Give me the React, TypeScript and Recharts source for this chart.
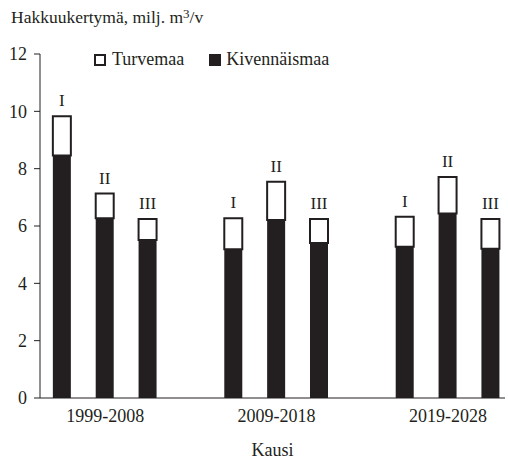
import { BarChart, Bar, XAxis, YAxis, LabelList } from 'recharts';

// Kaudet ja laskelmavaihtoehdot
const periods = ['1999-2008', '2009-2018', '2019-2028'];
const scenarios = ['I', 'II', 'III'];

// Hakkuukertymä, milj. m3/v (kausi x vaihtoehto)
const kivennaismaa = [8.46, 6.27, 5.51, 5.19, 6.21, 5.41, 5.28, 6.44, 5.21];
const turvemaa = [1.37, 0.86, 0.73, 1.08, 1.33, 0.83, 1.04, 1.27, 1.03];

const yTicks = [0, 2, 4, 6, 8, 10, 12];

const FONT = '"Liberation Serif", "Times New Roman", serif';
const DARK = '#231f20';

// kausien väliin jää yksi tyhjä paikka
const data = kivennaismaa.map((kiv, i) => ({
  pos: Math.floor(i / 3) * 4 + (i % 3),
  kiv,
  turve: turvemaa[i],
  label: scenarios[i % 3],
}));

const periodTicks = periods.map((_, g) => g * 4 + 1);

export default function App() {
  return (
    <div
      style={{
        position: 'absolute',
        left: 0,
        top: 0,
        width: 508,
        height: 460,
        background: '#fff',
        fontFamily: FONT,
        color: DARK,
      }}
    >
      <div style={{ position: 'absolute', left: 11, top: 6, fontSize: 17.5, whiteSpace: 'nowrap' }}>
        Hakkuukertymä, milj. m<sup style={{ fontSize: 13, verticalAlign: 5 }}>3</sup>/v
      </div>

      <div
        style={{
          position: 'absolute',
          left: 94,
          top: 49,
          fontSize: 18,
          display: 'flex',
          alignItems: 'center',
          whiteSpace: 'nowrap',
        }}
      >
        <span
          style={{
            display: 'inline-block',
            width: 12,
            height: 12,
            boxSizing: 'border-box',
            border: `2px solid ${DARK}`,
            background: '#fff',
            marginRight: 6,
          }}
        />
        <span style={{ marginRight: 25 }}>Turvemaa</span>
        <span
          style={{
            display: 'inline-block',
            width: 12,
            height: 12,
            background: DARK,
            marginRight: 5,
          }}
        />
        <span>Kivennäismaa</span>
      </div>

      <BarChart
        width={508}
        height={460}
        data={data}
        margin={{ top: 54, right: 3, left: 0, bottom: 0 }}
        barSize={18}
        style={{ fontFamily: FONT }}
      >
        <XAxis
          type="number"
          dataKey="pos"
          domain={[-0.52, 10.33]}
          ticks={periodTicks}
          tickFormatter={(v: number) => periods[Math.round((v - 1) / 4)]}
          tickLine={false}
          tickMargin={5}
          height={62}
          stroke={DARK}
          tick={{ fill: DARK, fontSize: 18 }}
          label={{ value: 'Kausi', position: 'insideBottom', offset: 4, fill: DARK, fontSize: 18 }}
        />
        <YAxis
          type="number"
          domain={[0, 12]}
          ticks={yTicks}
          width={40}
          tickSize={6}
          tickMargin={7}
          stroke={DARK}
          tick={{ fill: DARK, fontSize: 18 }}
        />
        <Bar dataKey="kiv" stackId="a" fill={DARK} isAnimationActive={false} />
        <Bar
          dataKey="turve"
          stackId="a"
          fill="#fff"
          stroke={DARK}
          strokeWidth={2}
          isAnimationActive={false}
        >
          <LabelList dataKey="label" position="top" offset={10} fill={DARK} fontSize={17} />
        </Bar>
      </BarChart>
    </div>
  );
}
